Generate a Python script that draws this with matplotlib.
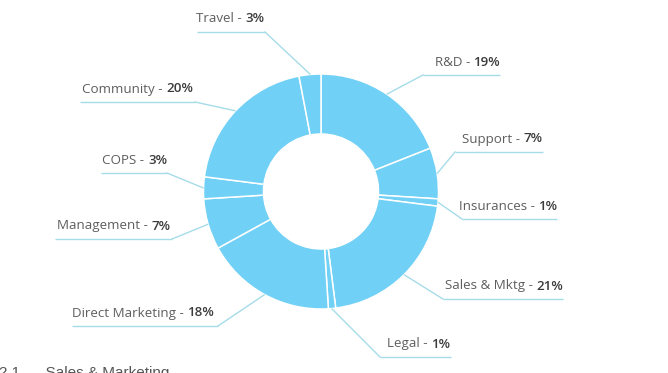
import numpy as np
import matplotlib
matplotlib.use("Agg")
import matplotlib.pyplot as plt

# ---- data ----
categories = ["R&D", "Support", "Insurances", "Sales & Mktg", "Legal",
              "Direct Marketing", "Management", "COPS", "Community", "Travel"]
shares = [19, 7, 1, 21, 1, 18, 7, 3, 20, 3]

# ---- layout (image pixel coords: underline x0, x1, y) ----
underlines = {
    "R&D": (423, 500, 75),
    "Support": (455, 543, 152),
    "Insurances": (462, 557, 219),
    "Sales & Mktg": (443, 563, 299),
    "Legal": (380, 451, 357),
    "Direct Marketing": (72, 218, 326),
    "Management": (55, 172, 239),
    "COPS": (101, 167, 173),
    "Community": (80, 195, 102),
    "Travel": (197, 265, 32),
}
text_right = {
    "R&D": 500, "Support": 543, "Insurances": 557, "Sales & Mktg": 563,
    "Legal": 450, "Direct Marketing": 214, "Management": 170, "COPS": 167,
    "Community": 193, "Travel": 264,
}
right_side = {"R&D", "Support", "Insurances", "Sales & Mktg", "Legal"}

W, H = 668, 373
cx, cy_img = 321, 191.5
r_out, r_in = 117.5, 57.5
donut_color = "#70D0F5"
line_color = "#A6DCE8"
name_color = "#5E5E5E"
pct_color = "#3C3C3C"
font = ["Open Sans", "DejaVu Sans"]

fig = plt.figure(figsize=(W / 100, H / 100), dpi=100)
ax = fig.add_axes([0, 0, 1, 1])
ax.set_xlim(0, W)
ax.set_ylim(0, H)
ax.axis("off")

def Y(y):
    return H - y

ax.pie(shares, center=(cx, Y(cy_img)), radius=r_out, startangle=90,
       counterclock=False, colors=[donut_color] * len(shares),
       wedgeprops=dict(width=r_out - r_in, edgecolor="white", linewidth=1.1))
ax.set_xlim(0, W)
ax.set_ylim(0, H)
ax.set_aspect("auto")

fig.canvas.draw()
renderer = fig.canvas.get_renderer()

cum = np.cumsum([0] + shares[:-1])
total = float(sum(shares))
for cat, start, val in zip(categories, cum, shares):
    mid = (start + val / 2) / total * 360.0
    th = np.deg2rad(mid)
    px = cx + (r_out + 0.5) * np.sin(th)
    py = cy_img - (r_out + 0.5) * np.cos(th)
    x0, x1, uy = underlines[cat]
    jx = x0 if cat in right_side else x1
    ax.plot([x0, x1], [Y(uy), Y(uy)], color=line_color, lw=1.0,
            solid_capstyle="butt")
    ax.plot([jx, px], [Y(uy), Y(py)], color=line_color, lw=1.0)
    tr = text_right[cat]
    ty = Y(uy - 9.5)
    pt = ax.text(tr, ty, f"{val}%", ha="right", va="baseline",
                 fontsize=9.6, fontweight="semibold", color=pct_color, family=font)
    bb = pt.get_window_extent(renderer=renderer)
    pw = bb.width
    ax.text(tr - pw, ty, f"{cat} - ", ha="right", va="baseline",
            fontsize=9.6, color=name_color, family=font)

ax.text(-1, Y(366.5), "2.1      Sales & Marketing", ha="left", va="top",
        fontsize=11, color="#555555", family=["Liberation Sans", "DejaVu Sans"])

fig.savefig("out.png", dpi=100)
